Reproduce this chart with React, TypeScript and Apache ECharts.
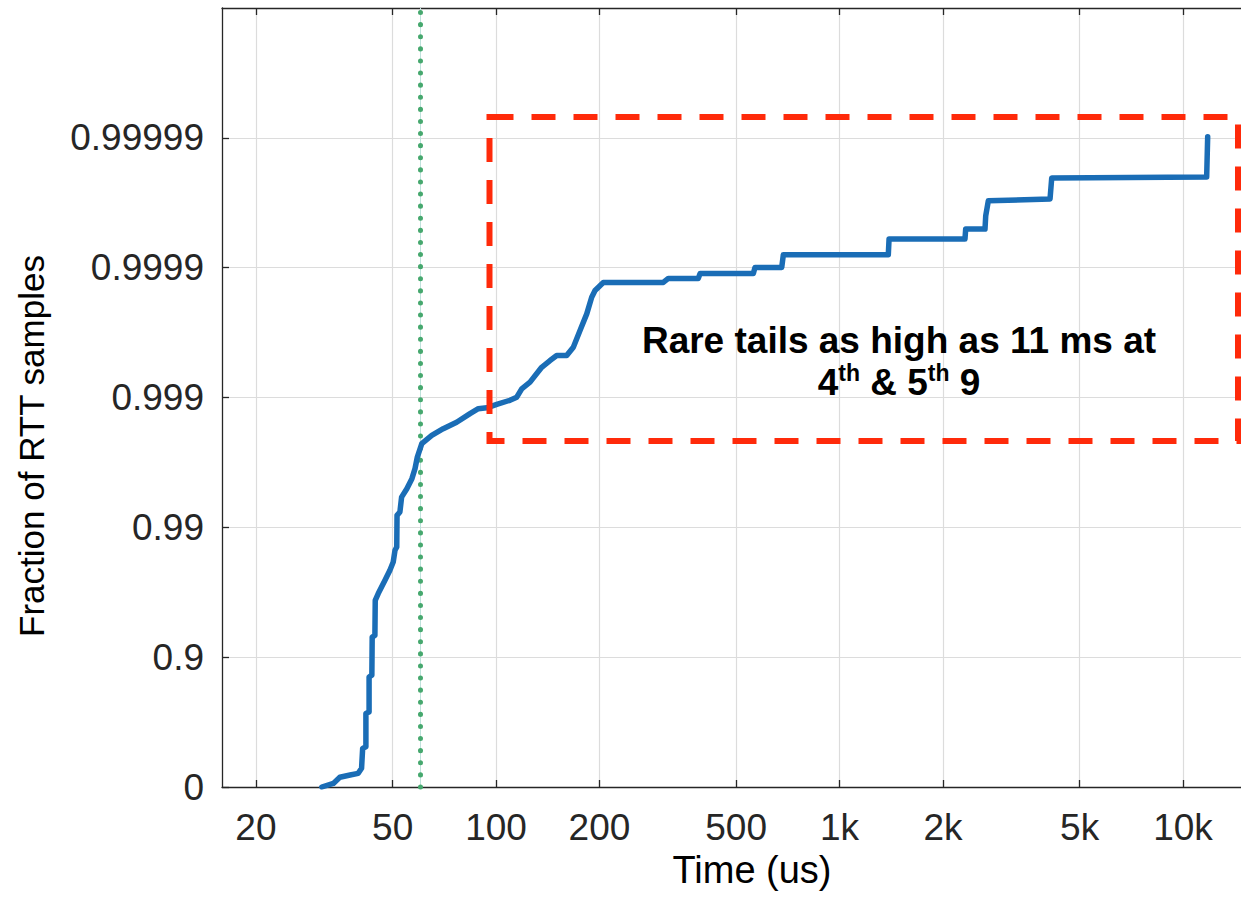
import React, { useEffect, useRef } from "react";
import * as echarts from "echarts";

// ---- data ----
const timeUs: number[] = [
  31.1, 33.6, 35.1, 37.6, 39.7, 40.6, 40.9, 41.8, 41.8, 42.7,
  42.7, 43.5, 43.6, 44.4, 44.5, 45.4, 47.5, 49.1, 50.2, 50.8,
  51.4, 51.5, 52.5, 53.1, 55.0, 56.9, 58.1, 59.0, 60.8, 65.0,
  70.2, 76.8, 84.0, 88.8, 94.0, 100.5, 109.8, 114.9, 118.8, 125.6,
  135.8, 143.6, 150.2, 160.6, 167.9, 175.6, 183.7, 189.9, 194.2, 205.3,
  306.9, 317.4, 388.1, 392.6, 561.2, 567.5, 678.9, 686.3, 1387, 1394,
  2319, 2330, 2652, 2665, 2712, 4101, 4148, 11720, 11800,
];
const fractionOfSamples: number[] = [
  0, 0.062, 0.159, 0.191, 0.215, 0.282, 0.496, 0.51, 0.729, 0.736,
  0.858, 0.8625, 0.93, 0.932, 0.9635, 0.9676, 0.9744, 0.9786, 0.9815, 0.98497,
  0.98581, 0.99191, 0.99238, 0.99415, 0.99496, 0.99578, 0.99647, 0.99712, 0.99773, 0.99804,
  0.99826, 0.99845, 0.99867, 0.99878, 0.9988, 0.99887, 0.99895, 0.999005, 0.999143, 0.999238,
  0.999415, 0.999481, 0.999525, 0.999525, 0.99959, 0.999695, 0.999773, 0.999831, 0.99985, 0.99987,
  0.99987, 0.999879, 0.999879, 0.999889, 0.999889, 0.9999005, 0.9999005, 0.9999206, 0.9999206, 0.9999399,
  0.9999399, 0.9999496, 0.9999496, 0.9999602, 0.9999695, 0.9999704, 0.9999796, 0.99998, 0.9999902,
];
const xTickValuesUs: number[] = [20, 50, 100, 200, 500, 1000, 2000, 5000, 10000];
const xTickLabels: string[] = ["20", "50", "100", "200", "500", "1k", "2k", "5k", "10k"];
const yTickFractions: number[] = [0, 0.9, 0.99, 0.999, 0.9999, 0.99999];
const yTickLabels: string[] = ["0", "0.9", "0.99", "0.999", "0.9999", "0.99999"];
const markerTimeUs = 60;
const xRangeUs: number[] = [15.93, 19420];
const yRangeNines: number[] = [0, 6];

const FONT = "'Liberation Sans', Arial, Helvetica, sans-serif";
const nines = (p: number) => (p <= 0 ? 0 : -Math.log10(1 - p));
const lg = (v: number) => Math.log10(v);

export default function App() {
  const ref = useRef<HTMLDivElement>(null);

  useEffect(() => {
    if (!ref.current) return;
    const chart = echarts.init(ref.current, null, { renderer: "svg" });

    const xTicks = xTickValuesUs.map(lg);
    const yTicks = yTickFractions.map(nines);
    const pick = (v: number, ticks: number[], labels: string[]) => {
      for (let i = 0; i < ticks.length; i++) {
        if (Math.abs(ticks[i] - v) < 1e-6) return labels[i];
      }
      return "";
    };
    const axisColor = "#262626";
    const axisLine = { show: true, onZero: false, lineStyle: { color: axisColor, width: 1.3 } };
    const gridLine = { show: true, lineStyle: { color: "#dcdcdc", width: 1.2 } };

    const option: any = {
      animation: false,
      backgroundColor: "#ffffff",
      textStyle: { fontFamily: FONT },
      grid: {
        left: 222,
        right: -41,
        top: 8,
        bottom: 110,
        containLabel: false,
        outerBoundsMode: "none",
      },
      xAxis: [
        {
          type: "value",
          position: "bottom",
          min: lg(xRangeUs[0]),
          max: lg(xRangeUs[1]),
          axisLine,
          axisTick: {
            show: true,
            inside: true,
            length: 7,
            customValues: xTicks,
            lineStyle: { color: axisColor, width: 1.3 },
          },
          axisLabel: {
            customValues: xTicks,
            formatter: (v: number) => pick(v, xTicks, xTickLabels),
            margin: 22,
            fontSize: 37,
            color: axisColor,
            fontFamily: FONT,
          },
          splitLine: gridLine,
          name: "Time (us)",
          nameLocation: "middle",
          nameGap: 44,
          nameTextStyle: { fontSize: 38, color: "#000000", fontFamily: FONT },
        },
        {
          type: "value",
          position: "top",
          min: lg(xRangeUs[0]),
          max: lg(xRangeUs[1]),
          axisLine,
          axisTick: {
            show: true,
            inside: true,
            length: 7,
            customValues: xTicks,
            lineStyle: { color: axisColor, width: 1.3 },
          },
          axisLabel: { show: false },
          splitLine: { show: false },
        },
      ],
      yAxis: {
        type: "value",
        position: "left",
        min: yRangeNines[0],
        max: yRangeNines[1],
        interval: 1,
        axisLine,
        axisTick: {
          show: true,
          inside: true,
          length: 7,
          customValues: yTicks,
          lineStyle: { color: axisColor, width: 1.3 },
        },
        axisLabel: {
          customValues: yTicks,
          formatter: (v: number) => pick(v, yTicks, yTickLabels),
          margin: 18,
          fontSize: 37,
          color: axisColor,
          fontFamily: FONT,
          padding: [7, 0, 0, 0],
        },
        splitLine: gridLine,
      },
      series: [
        {
          type: "line",
          xAxisIndex: 0,
          data: timeUs.map((t, i) => [lg(t), nines(fractionOfSamples[i])]),
          showSymbol: false,
          symbol: "none",
          lineStyle: { color: "#1a6db6", width: 5.5, cap: "round", join: "round" },
          z: 3,
          markLine: {
            silent: true,
            symbol: ["none", "none"],
            label: { show: false },
            z: 2,
            data: [
              { xAxis: lg(markerTimeUs), lineStyle: { color: "#bfe2dc", width: 1, type: "solid" } },
              {
                xAxis: lg(markerTimeUs),
                lineStyle: { color: "#46a86e", width: 5, type: [0.1, 12], cap: "round" },
              },
            ],
          },
        },
      ],
      graphic: [
        {
          type: "rect",
          z: 100,
          silent: true,
          shape: { x: 489.5, y: 117, width: 748.5, height: 324 },
          style: { fill: "none", stroke: "#ff2a0a", lineWidth: 6, lineDash: [24, 18] },
        },
        {
          type: "text",
          z: 101,
          silent: true,
          x: 899,
          y: 361,
          style: {
            text:
              "{b|Rare tails as high as 11 ms at}\n{b|4}{s|th}{b| & 5}{s|th}{b| 9}",
            align: "center",
            verticalAlign: "middle",
            rich: {
              b: {
                fontSize: 37,
                fontWeight: "bold",
                fontFamily: FONT,
                fill: "#000000",
                color: "#000000",
                lineHeight: 42,
              },
              s: {
                fontSize: 23,
                fontWeight: "bold",
                fontFamily: FONT,
                fill: "#000000",
                color: "#000000",
                lineHeight: 30,
                verticalAlign: "top",
              },
            },
          },
        },
        {
          type: "text",
          z: 101,
          silent: true,
          x: 31,
          y: 446,
          rotation: Math.PI / 2,
          style: {
            text: "Fraction of RTT samples",
            align: "center",
            verticalAlign: "middle",
            fontSize: 35,
            fontFamily: FONT,
            fill: "#000000",
          },
        },
      ],
    };

    chart.setOption(option);
    return () => {
      chart.dispose();
    };
  }, []);

  return (
    <div
      ref={ref}
      style={{
        position: "absolute",
        left: 0,
        top: 0,
        width: 1241,
        height: 897,
        background: "#ffffff",
      }}
    />
  );
}
